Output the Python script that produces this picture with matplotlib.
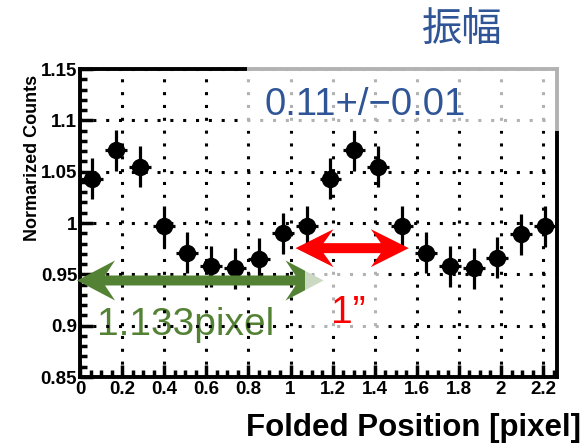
import matplotlib
matplotlib.use("Agg")
import matplotlib.pyplot as plt
from matplotlib.patches import Polygon, Rectangle
from matplotlib.ticker import MultipleLocator, FuncFormatter

plt.rcParams['font.family'] = ['Liberation Sans', 'DejaVu Sans']

# Folded light curve: bin centres [pixel], normalized counts, errors
positions = [0.057, 0.170, 0.283, 0.397, 0.510, 0.623, 0.737, 0.850, 0.963, 1.077,
             1.190, 1.303, 1.417, 1.530, 1.643, 1.757, 1.870, 1.983, 2.097, 2.210]
counts = [1.043, 1.071, 1.055, 0.997, 0.971, 0.958, 0.956, 0.965, 0.990, 0.997,
          1.043, 1.071, 1.055, 0.997, 0.971, 0.958, 0.956, 0.966, 0.989, 0.997]
count_err = [0.02] * 20
pos_err = 0.052

x_range = (0.0, 2.266)
y_range = (0.85, 1.15)
x_ticks = [0, 0.2, 0.4, 0.6, 0.8, 1, 1.2, 1.4, 1.6, 1.8, 2, 2.2]
y_ticks = [0.85, 0.9, 0.95, 1, 1.05, 1.1, 1.15]

BLUE = '#2F5597'
GREEN = '#548235'
RED = '#FF0000'

W, H, DPI = 587, 447, 100
fig = plt.figure(figsize=(W / DPI, H / DPI), dpi=DPI)
ax = fig.add_axes([80 / W, 1 - 377 / H, (557 - 80) / W, (377 - 69) / H])

ax.errorbar(positions, counts, yerr=count_err, xerr=pos_err, fmt='o',
            color='black', ms=11.5, elinewidth=2.3, capsize=0, zorder=4)

ax.set_xlim(*x_range)
ax.set_ylim(*y_range)
ax.set_xticks(x_ticks)
ax.set_yticks(y_ticks)
ax.xaxis.set_minor_locator(MultipleLocator(0.05))
ax.yaxis.set_minor_locator(MultipleLocator(0.01))
fmt = FuncFormatter(lambda v, p: '%g' % round(v, 3))
ax.xaxis.set_major_formatter(fmt)
ax.yaxis.set_major_formatter(fmt)

ax.tick_params(which='major', direction='in', length=9, width=2.5,
               top=False, right=False, labelsize=13.5, pad=3)
ax.tick_params(which='minor', direction='in', length=5, width=2.5,
               top=False, right=False)
ax.tick_params(axis='y', pad=2)
for lab in ax.get_xticklabels() + ax.get_yticklabels():
    lab.set_fontweight('bold')
for sp in ax.spines.values():
    sp.set_linewidth(2.8)

ax.set_axisbelow(False)
ax.grid(True, which='major', color='black', linestyle=(0, (1, 3.2)),
        linewidth=2.2, dash_capstyle='butt')

# period label (under the grid)
ax.text(0.082, 0.891, '1.133pixel', color=GREEN, fontsize=28,
        ha='left', va='baseline', zorder=1)

fig.text(33 / W, 1 - 158 / H, 'Normarized Counts', rotation=90, fontsize=13,
         fontweight='bold', ha='center', va='center')
fig.text(581 / W, 11 / H, 'Folded Position [pixel]', fontsize=22.5,
         fontweight='bold', ha='right', va='baseline')


def double_arrow(x0, x1, y, color, L=38, Wh=20, t=5, n=10, z=6):
    (ax0, ay), (ax1, _) = ax.transData.transform([(x0, y), (x1, y)])
    verts = [(ax0, ay), (ax0 + L, ay + Wh), (ax0 + L - n, ay + t),
             (ax1 - L + n, ay + t), (ax1 - L, ay + Wh), (ax1, ay),
             (ax1 - L, ay - Wh), (ax1 - L + n, ay - t),
             (ax0 + L - n, ay - t), (ax0 + L, ay - Wh)]
    fig.add_artist(Polygon(verts, closed=True, facecolor=color,
                           edgecolor='none', transform=None, zorder=z))


double_arrow(1.024, 1.562, 0.9755, RED, Wh=19)
double_arrow(-0.014, 1.157, 0.944, GREEN)

# translucent panels
fig.add_artist(Rectangle((247 / W, 1 - 131 / H), (560 - 247) / W, 65 / H,
                         transform=fig.transFigure, facecolor='white',
                         edgecolor='none', alpha=0.7, zorder=10))
fig.add_artist(Rectangle((305 / W, 1 - 333 / H), (384 - 305) / W, 63 / H,
                         transform=fig.transFigure, facecolor='white',
                         edgecolor='none', alpha=0.7, zorder=10))

fig.text(265 / W, 1 - 115 / H, '0.11+/\u22120.01', color=BLUE, fontsize=27.5,
         ha='left', va='baseline', zorder=11)
fig.text(331 / W, 1 - 323 / H, '1\u201d', color=RED, fontsize=28,
         ha='left', va='baseline', zorder=11)
fig.text(462 / W, 1 - 29 / H, '振幅', color=BLUE, fontsize=29,
         family=['Noto Sans CJK JP', 'DejaVu Sans'], ha='center', va='center',
         zorder=11)

fig.savefig('out.png', dpi=DPI)
